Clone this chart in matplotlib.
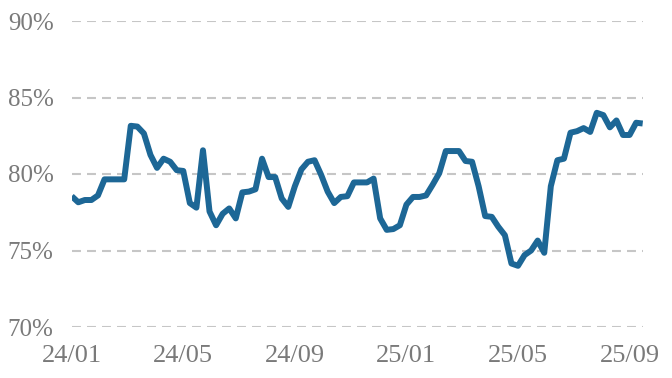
import matplotlib
matplotlib.use('Agg')
import matplotlib.pyplot as plt
import numpy as np

# 周度数据 (%), 24/01 ~ 25/09
values = [78.55, 78.15, 78.3, 78.3, 78.6, 79.65, 79.65, 79.65, 79.65, 83.15,
          83.1, 82.65, 81.25, 80.4, 81.0, 80.8, 80.25, 80.2, 78.1, 77.8,
          81.55, 77.55, 76.65, 77.4, 77.75, 77.1, 78.8, 78.85, 79.0, 81.0,
          79.8, 79.8, 78.4, 77.85, 79.2, 80.3, 80.8, 80.9, 79.95, 78.85,
          78.1, 78.5, 78.55, 79.45, 79.45, 79.45, 79.7, 77.1, 76.35, 76.4,
          76.65, 78.0, 78.5, 78.5, 78.6, 79.3, 80.05, 81.5, 81.5, 81.5,
          80.85, 80.8, 79.2, 77.25, 77.2, 76.55, 76.0, 74.15, 74.0, 74.7,
          75.0, 75.65, 74.85, 79.2, 80.9, 81.0, 82.7, 82.8, 83.0, 82.75,
          84.0, 83.85, 83.05, 83.5, 82.55, 82.55, 83.35, 83.3]
xtick_labels = ['24/01', '24/05', '24/09', '25/01', '25/05', '25/09']
xtick_step = 17
yticks = [70, 75, 80, 85, 90]

line_color = '#1d6796'
grid_color = '#c6c6c6'
text_color = '#7a7a7a'

plt.rcParams['font.family'] = ['Liberation Serif', 'DejaVu Serif']

fig = plt.figure(figsize=(6.72, 3.78), dpi=100)
ax = fig.add_axes([71.7 / 672, 51 / 378, 571 / 672, 306 / 378])

x = np.arange(len(values))
ax.plot(x, values, color=line_color, linewidth=4.3, solid_joinstyle='round',
        solid_capstyle='butt', zorder=3)

# 虚线网格
for v in yticks:
    ax.axhline(v, color=grid_color, linewidth=1.5, dashes=(4.3, 2.9), zorder=1)

ax.set_xlim(0, len(values) - 1)
ax.set_ylim(70, 90)
ax.set_yticks(yticks)
ax.set_yticklabels(['%d%%' % v for v in yticks])
ax.set_xticks(np.arange(len(xtick_labels)) * xtick_step)
ax.set_xticklabels(xtick_labels)

ax.tick_params(axis='x', length=0, pad=13, labelsize=19, labelcolor=text_color)
ax.tick_params(axis='y', length=0, pad=13, labelsize=18, labelcolor=text_color)
for s in ax.spines.values():
    s.set_visible(False)

fig.savefig('out.png', dpi=100)
